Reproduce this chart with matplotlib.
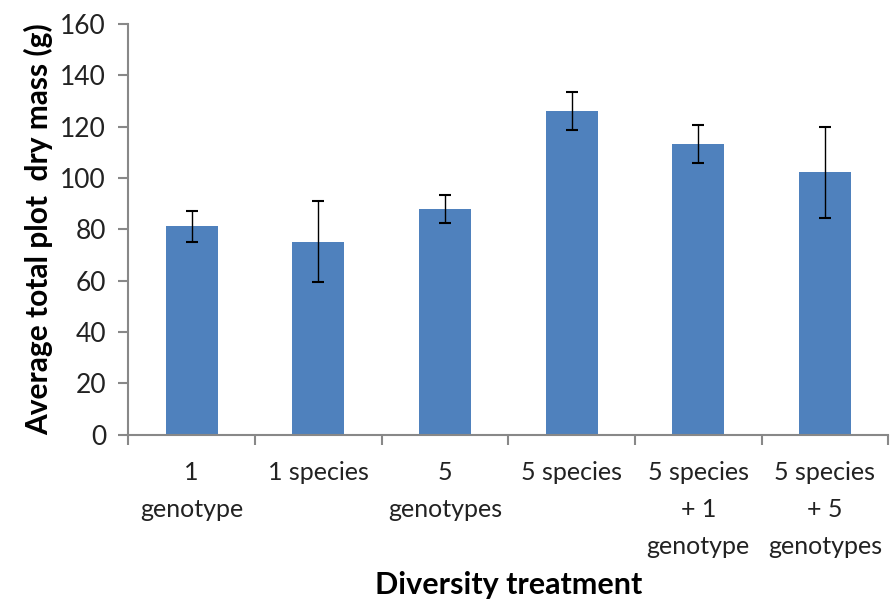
import matplotlib
matplotlib.use("Agg")
import matplotlib.pyplot as plt
import numpy as np

categories = ["1\ngenotype", "1 species", "5\ngenotypes", "5 species",
              "5 species\n+ 1\ngenotype", "5 species\n+ 5\ngenotypes"]
means = [81.2, 75.3, 87.9, 126.2, 113.4, 102.2]
errors = [5.9, 15.8, 5.5, 7.4, 7.4, 17.8]
yticks = [0, 20, 40, 60, 80, 100, 120, 140, 160]

plt.rcParams['font.family'] = ['Lato', 'DejaVu Sans']

fig = plt.figure(figsize=(8.91, 6.03), dpi=100)
ax = fig.add_axes([0.144, 0.279, 0.853, 0.681])

x = np.arange(len(categories))
ax.bar(x, means, width=0.41, color="#4F81BD", zorder=2)
ax.errorbar(x, means, yerr=errors, fmt="none", ecolor="black", elinewidth=1.0,
            capsize=4.5, capthick=1.5, zorder=3)

ax.set_xlim(-0.5, len(categories) - 0.5)
ax.set_ylim(0, 160)
ax.set_yticks(yticks)
ax.set_yticklabels([str(t) for t in yticks], fontsize=19, color="#222222")

ax.set_xticks(np.arange(-0.5, len(categories), 1.0))
ax.set_xticklabels([])
ax.set_xticks(x, minor=True)
ax.set_xticklabels(categories, minor=True, fontsize=18, color="#222222",
                   linespacing=1.72, va="top")
ax.tick_params(axis="x", which="minor", length=0, pad=19)
ax.tick_params(axis="x", which="major", length=7, width=1.5, color="#888888",
               direction="out")
ax.tick_params(axis="y", which="major", length=7, width=1.5, color="#888888",
               direction="out", pad=9)

for s in ["top", "right"]:
    ax.spines[s].set_visible(False)
for s in ["left", "bottom"]:
    ax.spines[s].set_color("#888888")
    ax.spines[s].set_linewidth(1.5)

ax.set_ylabel("Average total plot  dry mass (g)", fontsize=21.5, fontweight="bold",
              labelpad=5)
ax.set_xlabel("Diversity treatment", fontsize=22, fontweight="bold", labelpad=10)

fig.savefig("out.png", dpi=100)
